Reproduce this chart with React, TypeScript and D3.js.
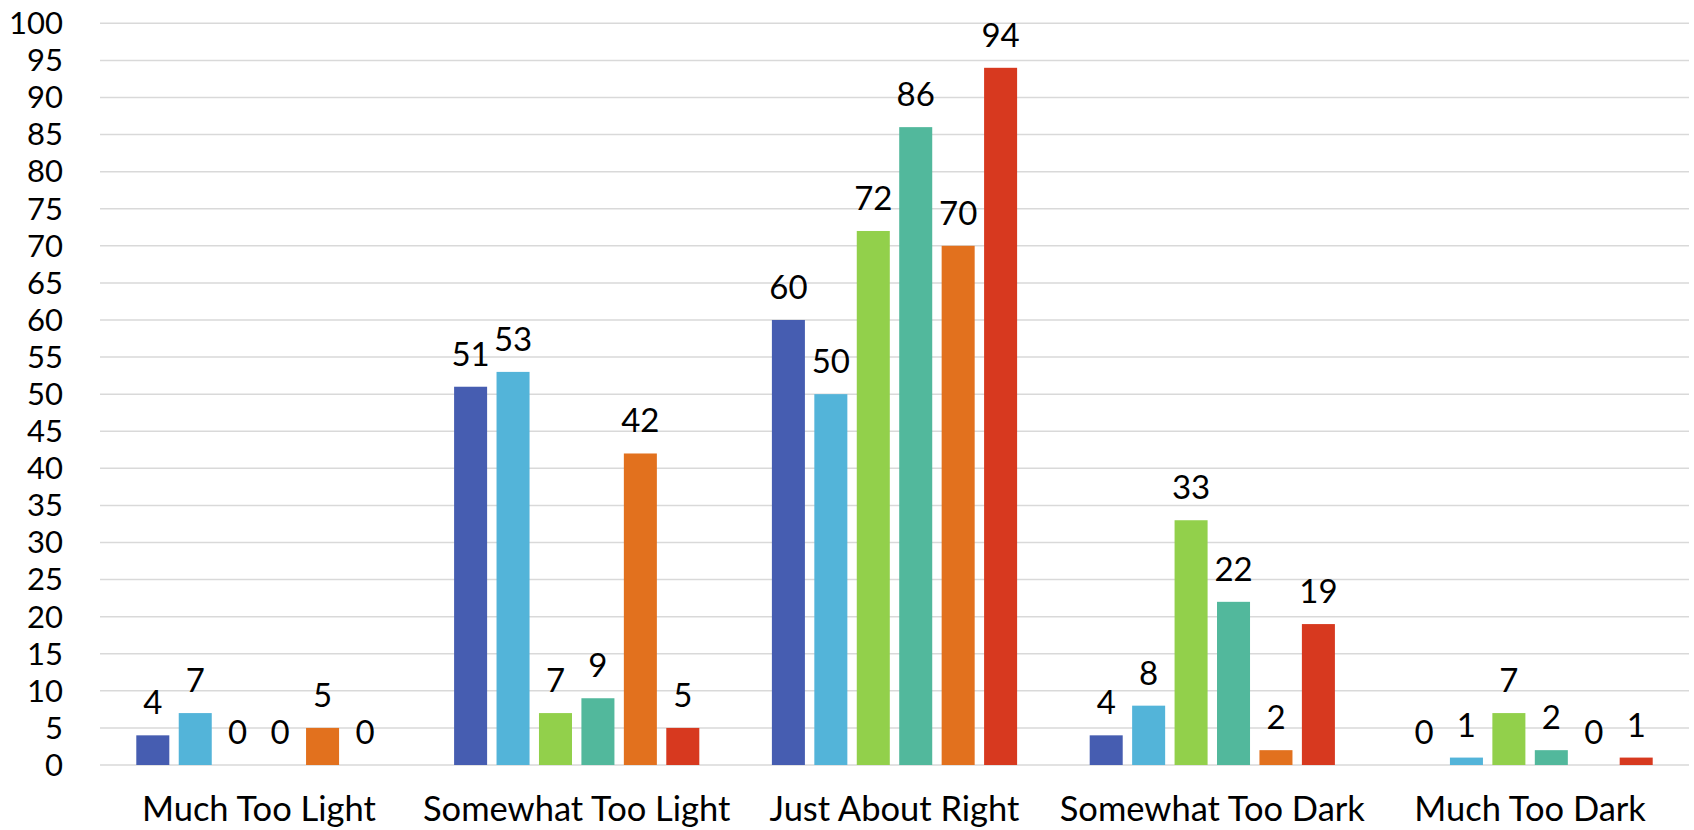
import React from "react";
import * as d3 from "d3";

const categories = [
  "Much Too Light",
  "Somewhat Too Light",
  "Just About Right",
  "Somewhat Too Dark",
  "Much Too Dark",
];

const seriesNames = ["S1", "S2", "S3", "S4", "S5", "S6"];

const seriesColors = ["#465DB1", "#53B4D9", "#92D04B", "#52B89C", "#E2711E", "#D7391F"];

// values[series][category]
const s1 = [4, 51, 60, 4, 0];
const s2 = [7, 53, 50, 8, 1];
const s3 = [0, 7, 72, 33, 7];
const s4 = [0, 9, 86, 22, 2];
const s5 = [5, 42, 70, 2, 0];
const s6 = [0, 5, 94, 19, 1];
const seriesValues = [s1, s2, s3, s4, s5, s6];

const yTicks = d3.range(0, 101, 5);

const W = 1694;
const H = 830;
const margin = { left: 100, right: 5, top: 23.3, bottom: 65 };
const FONT = "Lato, 'Open Sans', sans-serif";

export default function App() {
  const plotRight = W - margin.right;
  const plotBottom = H - margin.bottom;

  const x0 = d3
    .scaleBand<string>()
    .domain(categories)
    .range([margin.left, plotRight])
    .paddingInner(0)
    .paddingOuter(0);

  const groupWidth = x0.bandwidth() * 0.7716;
  const x1 = d3
    .scaleBand<string>()
    .domain(seriesNames)
    .range([0, groupWidth])
    .paddingInner(0.222)
    .paddingOuter(0);

  const y = d3.scaleLinear().domain([0, 100]).range([plotBottom, margin.top]);

  return (
    <svg
      width={W}
      height={H}
      style={{ position: "absolute", left: 0, top: 0, background: "#fff" }}
      fontFamily={FONT}
    >
      {/* horizontal gridlines */}
      {yTicks.map((t) => (
        <line
          key={"g" + t}
          x1={margin.left}
          x2={plotRight}
          y1={y(t)}
          y2={y(t)}
          stroke="#d9d9d9"
          strokeWidth={1.5}
        />
      ))}
      {/* y-axis tick labels */}
      {yTicks.map((t) => (
        <text
          key={"t" + t}
          x={63}
          y={y(t)}
          dy="0.35em"
          textAnchor="end"
          fontSize={31}
          fill="#000"
        >
          {t}
        </text>
      ))}
      {/* bars and value labels */}
      {categories.map((c, ci) => {
        const gx = (x0(c) as number) + (x0.bandwidth() - groupWidth) / 2;
        return (
          <g key={c}>
            {seriesNames.map((s, si) => {
              const v = seriesValues[si][ci];
              const bx = gx + (x1(s) as number);
              const by = y(v);
              return (
                <g key={s}>
                  {v > 0 && (
                    <rect
                      x={bx}
                      y={by}
                      width={x1.bandwidth()}
                      height={plotBottom - by}
                      fill={seriesColors[si]}
                    />
                  )}
                  <text
                    x={bx + x1.bandwidth() / 2}
                    y={by - 21}
                    textAnchor="middle"
                    fontSize={33}
                    fill="#000"
                  >
                    {v}
                  </text>
                </g>
              );
            })}
            <text
              x={(x0(c) as number) + x0.bandwidth() / 2}
              y={821}
              textAnchor="middle"
              fontSize={34.5}
              fill="#000"
            >
              {c}
            </text>
          </g>
        );
      })}
    </svg>
  );
}
